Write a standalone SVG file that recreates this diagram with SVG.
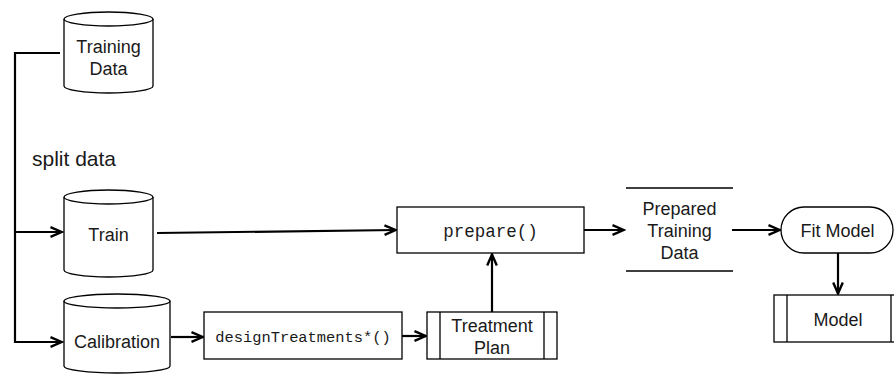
<svg xmlns="http://www.w3.org/2000/svg" width="894" height="374" viewBox="0 0 894 374">
<style>
.shape{fill:#fff;stroke:#000;stroke-width:1.3}
.line{fill:none;stroke:#000;stroke-width:1.3}
.conn{fill:none;stroke:#000;stroke-width:2.2}
.t{font-family:"Liberation Sans",Arial,Helvetica,sans-serif;font-size:18px;fill:#1a1a1a;text-anchor:middle}
.m{font-family:"Liberation Mono","Courier New",monospace;fill:#1a1a1a;text-anchor:middle}
</style>
<defs>
<marker id="arr" markerUnits="userSpaceOnUse" viewBox="0 0 14 12" markerWidth="14" markerHeight="12" refX="12.5" refY="6" orient="auto">
<path d="M1,1.2 L12,6 L1,10.8" fill="none" stroke="#000" stroke-width="2.4" stroke-linejoin="miter"/>
</marker>
</defs>
<rect width="894" height="374" fill="#fff"/>

<g id="connectors">
<path class="conn" d="M60,53 H15 V342 H62" marker-end="url(#arr)"/>
<path class="conn" d="M15,232 H62" marker-end="url(#arr)"/>
<path class="conn" d="M157,233 L396,230" marker-end="url(#arr)"/>
<path class="conn" d="M171,337 H203" marker-end="url(#arr)"/>
<path class="conn" d="M402,336 H426" marker-end="url(#arr)"/>
<path class="conn" d="M492,312 V254" marker-end="url(#arr)"/>
<path class="conn" d="M584,230 H624" marker-end="url(#arr)"/>
<path class="conn" d="M732,230 H780" marker-end="url(#arr)"/>
<path class="conn" d="M838,253 V294" marker-end="url(#arr)"/>
</g>

<text class="t" x="32" y="166" style="font-size:21px;text-anchor:start">split data</text>

<g id="training-data">
<path class="shape" d="M64,19 V86 A44.5,7 0 0 0 153,86 V19"/>
<ellipse class="shape" cx="108.5" cy="19" rx="44.5" ry="7"/>
<text class="t" x="108.5" y="53">Training</text>
<text class="t" x="108.5" y="75">Data</text>
</g>

<g id="train">
<path class="shape" d="M64,197 V270 A44.5,7 0 0 0 153,270 V197"/>
<ellipse class="shape" cx="108.5" cy="197" rx="44.5" ry="7"/>
<text class="t" x="108.5" y="241">Train</text>
</g>

<g id="calibration">
<path class="shape" d="M64,301 V366 A53,7 0 0 0 170,366 V301"/>
<ellipse class="shape" cx="117" cy="301" rx="53" ry="7"/>
<text class="t" x="117" y="348">Calibration</text>
</g>

<g id="design-treatments">
<rect class="shape" x="204" y="312" width="198" height="47"/>
<text class="m" x="303" y="342" style="font-size:15.4px">designTreatments*()</text>
</g>

<g id="treatment-plan">
<rect class="shape" x="427" y="312" width="130" height="47"/>
<path class="line" d="M440,312 V359 M544,312 V359"/>
<text class="t" x="492" y="332">Treatment</text>
<text class="t" x="492" y="354">Plan</text>
</g>

<g id="prepare">
<rect class="shape" x="397" y="207" width="187" height="46"/>
<text class="m" x="490.5" y="237" style="font-size:17.5px">prepare()</text>
</g>

<g id="prepared-training-data">
<path class="line" d="M626,188 H733 M626,271 H733"/>
<text class="t" x="679.5" y="215">Prepared</text>
<text class="t" x="679.5" y="237">Training</text>
<text class="t" x="679.5" y="259">Data</text>
</g>

<g id="fit-model">
<rect class="shape" x="781" y="207" width="112" height="46" rx="23" ry="23"/>
<text class="t" x="837.5" y="237">Fit Model</text>
</g>

<g id="model">
<rect class="shape" x="774" y="295" width="130" height="47"/>
<path class="line" d="M787,295 V342 M891,295 V342"/>
<text class="t" x="838" y="326">Model</text>
</g>
</svg>
